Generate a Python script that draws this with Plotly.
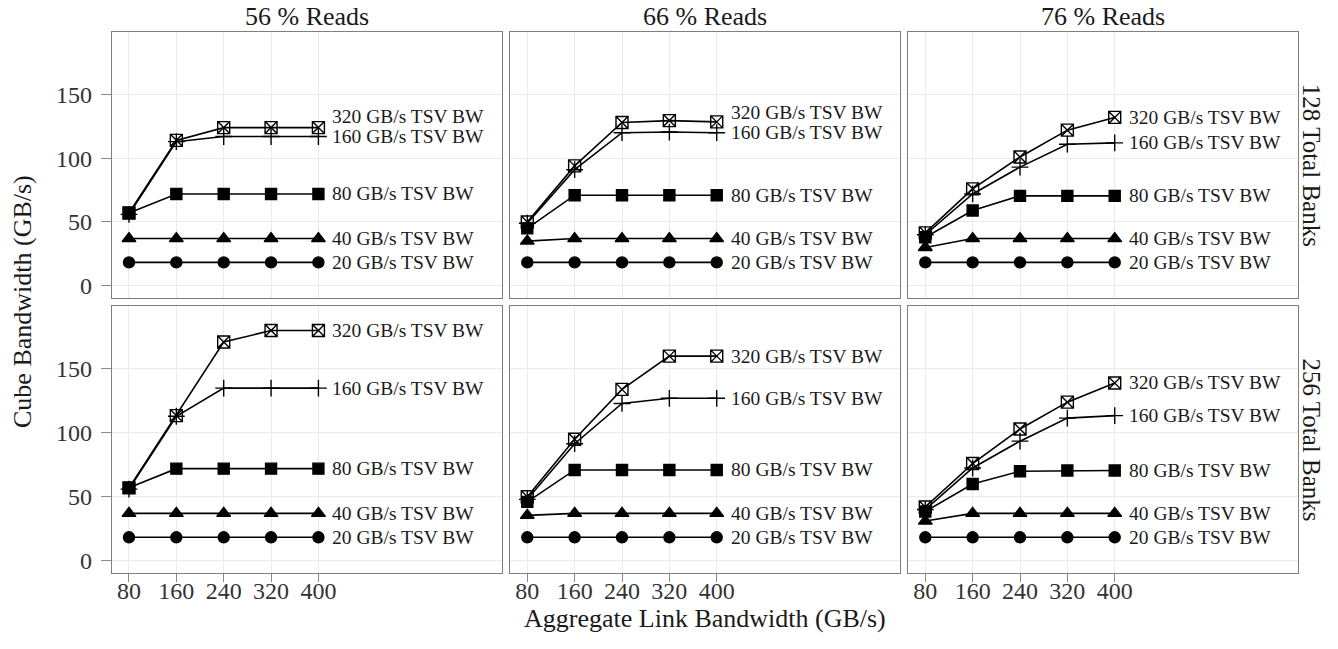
import plotly.graph_objects as go

# ---------------- data ----------------
link_bw = [80, 160, 240, 320, 400]
tsv_bw = [20, 40, 80, 160, 320]
tsv_labels = ["20 GB/s TSV BW", "40 GB/s TSV BW", "80 GB/s TSV BW",
              "160 GB/s TSV BW", "320 GB/s TSV BW"]
read_pcts = ["56 % Reads", "66 % Reads", "76 % Reads"]
bank_rows = ["128 Total Banks", "256 Total Banks"]
y_ticks = [0, 50, 100, 150]

# 128 total banks
b128_r56_t20 = [18.3, 18.3, 18.3, 18.3, 18.3]
b128_r56_t40 = [37, 37, 37, 37, 37]
b128_r56_t80 = [57, 72, 72, 72, 72]
b128_r56_t160 = [56, 113, 117, 117, 117]
b128_r56_t320 = [57, 114, 124, 124, 124]

b128_r66_t20 = [18.3, 18.3, 18.3, 18.3, 18.3]
b128_r66_t40 = [35, 37, 37, 37, 37]
b128_r66_t80 = [45, 71, 71, 71, 71]
b128_r66_t160 = [49, 91, 120, 120.5, 120]
b128_r66_t320 = [50, 94, 128, 129.5, 128.5]

b128_r76_t20 = [18.3, 18.3, 18.3, 18.3, 18.3]
b128_r76_t40 = [30, 37, 37, 37, 37]
b128_r76_t80 = [38, 59, 70.5, 70.5, 70.5]
b128_r76_t160 = [40, 72, 93, 111, 112]
b128_r76_t320 = [41.5, 76, 101, 122, 132]

# 256 total banks
b256_r56_t20 = [18.3, 18.3, 18.3, 18.3, 18.3]
b256_r56_t40 = [37, 37, 37, 37, 37]
b256_r56_t80 = [57, 72, 72, 72, 72]
b256_r56_t160 = [56, 113, 135, 135, 135]
b256_r56_t320 = [57, 113.5, 171, 180, 180]

b256_r66_t20 = [18.3, 18.3, 18.3, 18.3, 18.3]
b256_r66_t40 = [35.5, 37, 37, 37, 37]
b256_r66_t80 = [46, 71, 71, 71, 71]
b256_r66_t160 = [48, 91.5, 123, 127, 127]
b256_r66_t320 = [50, 95, 134, 160, 160]

b256_r76_t20 = [18.3, 18.3, 18.3, 18.3, 18.3]
b256_r76_t40 = [31, 37, 37, 37, 37]
b256_r76_t80 = [38.5, 60, 70, 70.5, 70.5]
b256_r76_t160 = [40, 72.5, 93.5, 111.5, 113.5]
b256_r76_t320 = [42, 76, 103, 124, 139]

panels = [
    [[b128_r56_t20, b128_r56_t40, b128_r56_t80, b128_r56_t160, b128_r56_t320],
     [b128_r66_t20, b128_r66_t40, b128_r66_t80, b128_r66_t160, b128_r66_t320],
     [b128_r76_t20, b128_r76_t40, b128_r76_t80, b128_r76_t160, b128_r76_t320]],
    [[b256_r56_t20, b256_r56_t40, b256_r56_t80, b256_r56_t160, b256_r56_t320],
     [b256_r66_t20, b256_r66_t40, b256_r66_t80, b256_r66_t160, b256_r66_t320],
     [b256_r76_t20, b256_r76_t40, b256_r76_t80, b256_r76_t160, b256_r76_t320]],
]

# ---------------- style ----------------
W, H = 1338, 649
FONT = "Liberation Serif"
symbols = ["circle", "triangle-up", "square", "cross-thin", "square-x-open"]
sizes = [11, 12, 11, 12, 12]
col_px = [(111.7, 501.7), (510, 900), (908, 1298)]
row_px = [(31.7, 298), (306, 573)]
X_RANGE = [50.8, 709.6]
Y_RANGE = [-9.6, 199.2]
LABEL_GAP = 16
LABEL_X = 420

fig = go.Figure()
layout = dict(
    width=W, height=H, margin=dict(l=0, r=0, t=0, b=0, autoexpand=False),
    paper_bgcolor="white", plot_bgcolor="white", showlegend=False,
    font=dict(family=FONT, color="#1a1a1a"),
)
annotations = []

for r in range(2):
    for c in range(3):
        idx = r * 3 + c + 1
        xa = "x" if idx == 1 else f"x{idx}"
        ya = "y" if idx == 1 else f"y{idx}"
        x0, x1 = col_px[c]
        t0, t1 = row_px[r]
        layout["xaxis" if idx == 1 else f"xaxis{idx}"] = dict(
            domain=[x0 / W, x1 / W], range=X_RANGE, anchor=ya,
            automargin=False,
            tickvals=link_bw, showticklabels=(r == 1),
            ticks="outside" if r == 1 else "", ticklen=8, tickcolor="#8a8a8a",
            ticklabelstandoff=-12,
            tickfont=dict(size=24, color="#333", family=FONT),
            showgrid=True, gridcolor="#ebebeb", gridwidth=1, zeroline=False,
            showline=True, mirror=True, linecolor="#7f7f7f", linewidth=1,
        )
        layout["yaxis" if idx == 1 else f"yaxis{idx}"] = dict(
            domain=[1 - t1 / H, 1 - t0 / H], range=Y_RANGE, anchor=xa,
            automargin=False,
            tickvals=y_ticks, showticklabels=(c == 0),
            ticks="outside" if c == 0 else "", ticklen=10, tickcolor="#8a8a8a",
            ticklabelstandoff=4,
            tickfont=dict(size=24, color="#333", family=FONT),
            showgrid=True, gridcolor="#ebebeb", gridwidth=1, zeroline=False,
            showline=True, mirror=True, linecolor="#7f7f7f", linewidth=1,
        )
        series = panels[r][c]
        for k, ys in enumerate(series):
            fig.add_trace(go.Scatter(
                x=link_bw, y=ys, xaxis=xa, yaxis=ya, mode="lines+markers",
                line=dict(color="black", width=1.6),
                marker=dict(symbol=symbols[k], size=sizes[k], color="black",
                            line=dict(color="black", width=1.4)),
                hoverinfo="skip",
            ))
        # direct labels, pushed apart when they would overlap
        prev = None
        for k, ys in enumerate(series):
            ly = ys[-1] if prev is None else max(ys[-1], prev + LABEL_GAP)
            prev = ly
            annotations.append(dict(
                x=LABEL_X, y=ly, xref=xa, yref=ya, text=tsv_labels[k],
                showarrow=False, xanchor="left", yanchor="middle",
                font=dict(size=19.5, color="#1a1a1a", family=FONT),
            ))

# column strips
for c, lab in enumerate(read_pcts):
    x0, x1 = col_px[c]
    annotations.append(dict(
        x=(x0 + x1) / 2 / W, y=1 - 16 / H, xref="paper", yref="paper",
        text=lab, showarrow=False, xanchor="center", yanchor="middle",
        font=dict(size=26, color="#1a1a1a", family=FONT)))
# row strips
for r, lab in enumerate(bank_rows):
    t0, t1 = row_px[r]
    annotations.append(dict(
        x=1311 / W, y=1 - (t0 + t1) / 2 / H, xref="paper", yref="paper",
        text=lab, showarrow=False, textangle=90, xanchor="center",
        yanchor="middle", font=dict(size=25, color="#1a1a1a", family=FONT)))
# axis titles
annotations.append(dict(
    x=705 / W, y=1 - 618 / H, xref="paper", yref="paper",
    text="Aggregate Link Bandwidth (GB/s)", showarrow=False,
    xanchor="center", yanchor="middle",
    font=dict(size=26, color="#1a1a1a", family=FONT)))
annotations.append(dict(
    x=22 / W, y=1 - 302 / H, xref="paper", yref="paper",
    text="Cube Bandwidth (GB/s)", showarrow=False, textangle=-90,
    xanchor="center", yanchor="middle",
    font=dict(size=26, color="#1a1a1a", family=FONT)))

layout["annotations"] = annotations
fig.update_layout(**layout)
fig.write_html("out.html", config={"displayModeBar": False})

# remove the browser's default page margin so the figure sits at (0, 0)
with open("out.html", "r", encoding="utf-8") as fh:
    html = fh.read()
html = html.replace("<head>", "<head><style>html,body{margin:0;padding:0;overflow:hidden;}</style>", 1)
with open("out.html", "w", encoding="utf-8") as fh:
    fh.write(html)
